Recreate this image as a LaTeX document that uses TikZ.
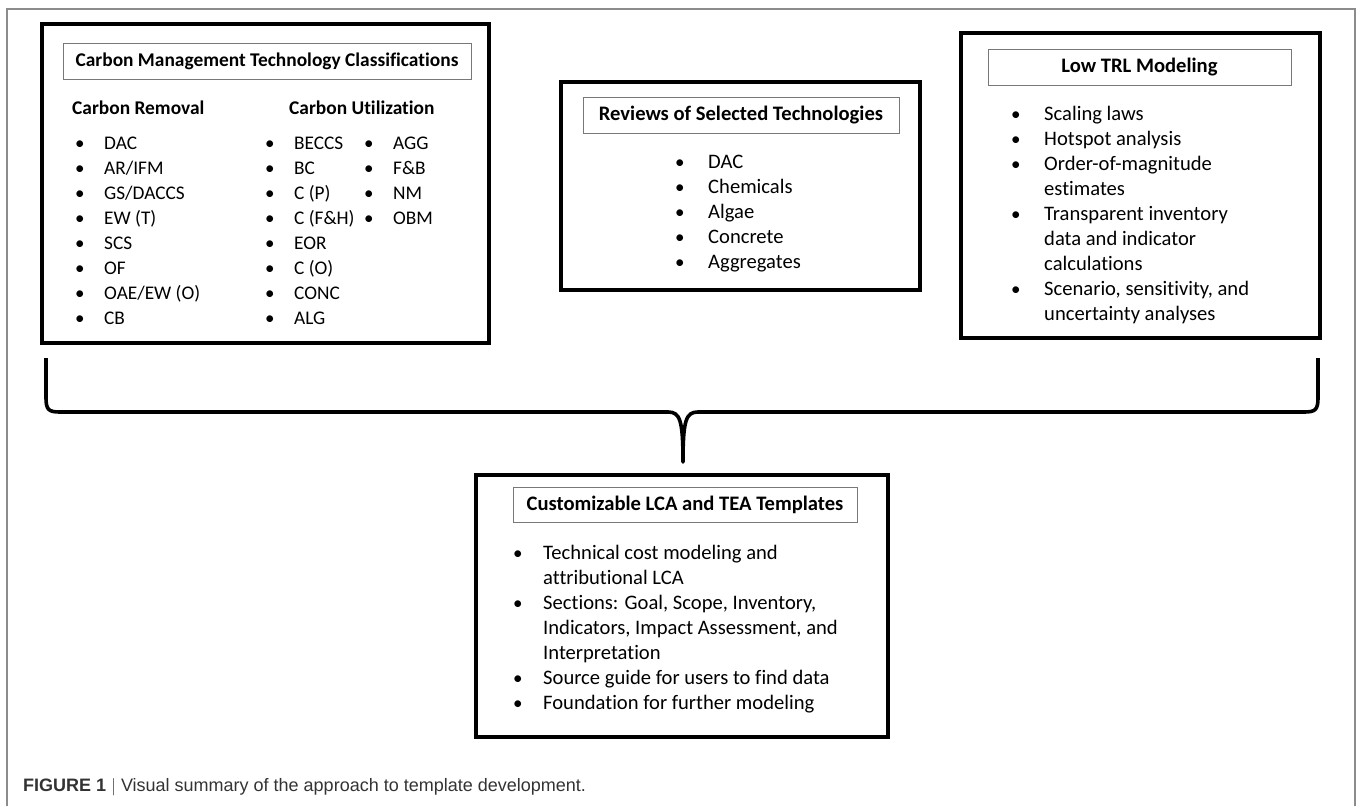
\documentclass[tikz,border=0pt]{standalone}
\usepackage{fontspec}
\setmainfont{Carlito}[Ligatures=CommonOff]
\newfontfamily\capfont{Liberation Sans}
\usetikzlibrary{positioning}
\definecolor{framegray}{HTML}{8C8C8C}
\definecolor{headgray}{HTML}{787878}
\definecolor{captext}{HTML}{333333}

\begin{document}
\begin{tikzpicture}[x=1pt, y=-1pt,
    panel/.style={draw=black, line width=4pt, fill=white, inner sep=0pt},
    heading/.style={draw=headgray, line width=0.9pt, inner sep=0pt,
        font=\fontsize{#1}{24}\selectfont\bfseries},
    heading/.default=20.6,
    sub/.style={anchor=base west, inner sep=0pt, font=\fontsize{19.4}{24}\selectfont\bfseries},
    item/.style={anchor=base west, inner sep=0pt, font=\fontsize{#1}{24}\selectfont},
    item/.default=20.6,
    dot/.style={anchor=base west, inner sep=0pt, font=\fontsize{19}{24}\selectfont},
    brace/.style={line width=3.6pt, line join=round, line cap=butt},
    caption/.style={anchor=west, inner sep=0pt, text=captext, font=\capfont\fontsize{18}{21}\selectfont}
]
    \useasboundingbox (0,0) rectangle (1358,806);

    % outer frame, open at the bottom
    \draw[framegray, line width=1.2pt] (7,806) -- (7,9) -- (1355,9) -- (1355,806);

    % the four panels
    \node[panel, minimum width=447pt, minimum height=319pt] (classes) at (265.5,183.5) {};
    \node[panel, minimum width=359pt, minimum height=208pt] (reviews) at (740.5,186) {};
    \node[panel, minimum width=359pt, minimum height=305pt] (lowtrl) at (1140.5,185.5) {};
    \node[panel, minimum width=412pt, minimum height=262pt] (templates) at (682,606) {};

    % headings
    \node[heading=19.4, minimum width=408pt, minimum height=36pt] (classhead) at (267,61) {Carbon Management Technology Classifications};
    \node[heading, minimum width=316pt, minimum height=36pt] (revhead) at (741,115) {Reviews of Selected Technologies};
    \node[heading, minimum width=303pt, minimum height=36pt] (trlhead) at (1139.5,67) {Low TRL Modeling};
    \node[heading, minimum width=344pt, minimum height=35pt] (temphead) at (685,504.5) {Customizable LCA and TEA Templates};

    \node[sub] (remhead) at (72,114.5) {Carbon Removal};
    \node[sub] (usehead) at (289,114.5) {Carbon Utilization};

    % carbon removal
    \foreach \t [count=\i] in {DAC, AR/IFM, GS/DACCS, EW (T), SCS, OF, OAE/EW (O), CB} {
        \node[dot] at (75, 124.5+25*\i) {\textbullet};
        \node[item=19.3] (rem\i) at (104, 124.5+25*\i) {\t};
    }

    % carbon utilization, two columns
    \foreach \t [count=\i] in {BECCS, BC, C (P), C (F\&H), EOR, C (O), CONC, ALG} {
        \node[dot] at (265, 124.5+25*\i) {\textbullet};
        \node[item=19.3] (usea\i) at (294, 124.5+25*\i) {\t};
    }
    \foreach \t [count=\i] in {AGG, F\&B, NM, OBM} {
        \node[dot] at (364, 124.5+25*\i) {\textbullet};
        \node[item=19.3] (useb\i) at (393, 124.5+25*\i) {\t};
    }

    % reviews
    \foreach \t [count=\i] in {DAC, Chemicals, Algae, Concrete, Aggregates} {
        \node[dot] at (675, 143+25*\i) {\textbullet};
        \node[item] (rev\i) at (708, 143+25*\i) {\t};
    }

    % low TRL modeling
    \foreach \b/\t [count=\i] in {1/Scaling laws, 1/Hotspot analysis, 1/Order-of-magnitude,
            0/estimates, 1/Transparent inventory, 0/data and indicator, 0/calculations,
            1/{Scenario, sensitivity, and}, 0/uncertainty analyses} {
        \ifnum\b=1 \node[dot] at (1011, 95+25*\i) {\textbullet}; \fi
        \node[item] (trl\i) at (1044, 95+25*\i) {\t};
    }

    % templates
    \foreach \b/\t [count=\i] in {1/Technical cost modeling and, 0/attributional LCA,
            1/{Sections: Goal, Scope, Inventory,}, 0/{Indicators, Impact Assessment, and},
            0/Interpretation, 1/Source guide for users to find data, 1/Foundation for further modeling} {
        \ifnum\b=1 \node[dot] at (513, 534+25*\i) {\textbullet}; \fi
        \node[item] (tmp\i) at (543, 534+25*\i) {\t};
    }

    % brace gathering the three panels
    \coordinate (bl) at (46,358);
    \coordinate (br) at (1318,358);
    \coordinate (tip) at (683,462);
    \draw[brace] (bl) -- (46,398) .. controls (46,410) and (49,412) .. (60,412)
        -- (668,412) .. controls (680,412) and (683,420) .. (tip)
        .. controls (683,420) and (686,412) .. (698,412)
        -- (1304,412) .. controls (1315,412) and (1318,410) .. (1318,398) -- (br);

    \node[caption] (cap) at (23,787) {\textbf{FIGURE 1} $|$ Visual summary of the approach to template development.};
\end{tikzpicture}
\end{document}
